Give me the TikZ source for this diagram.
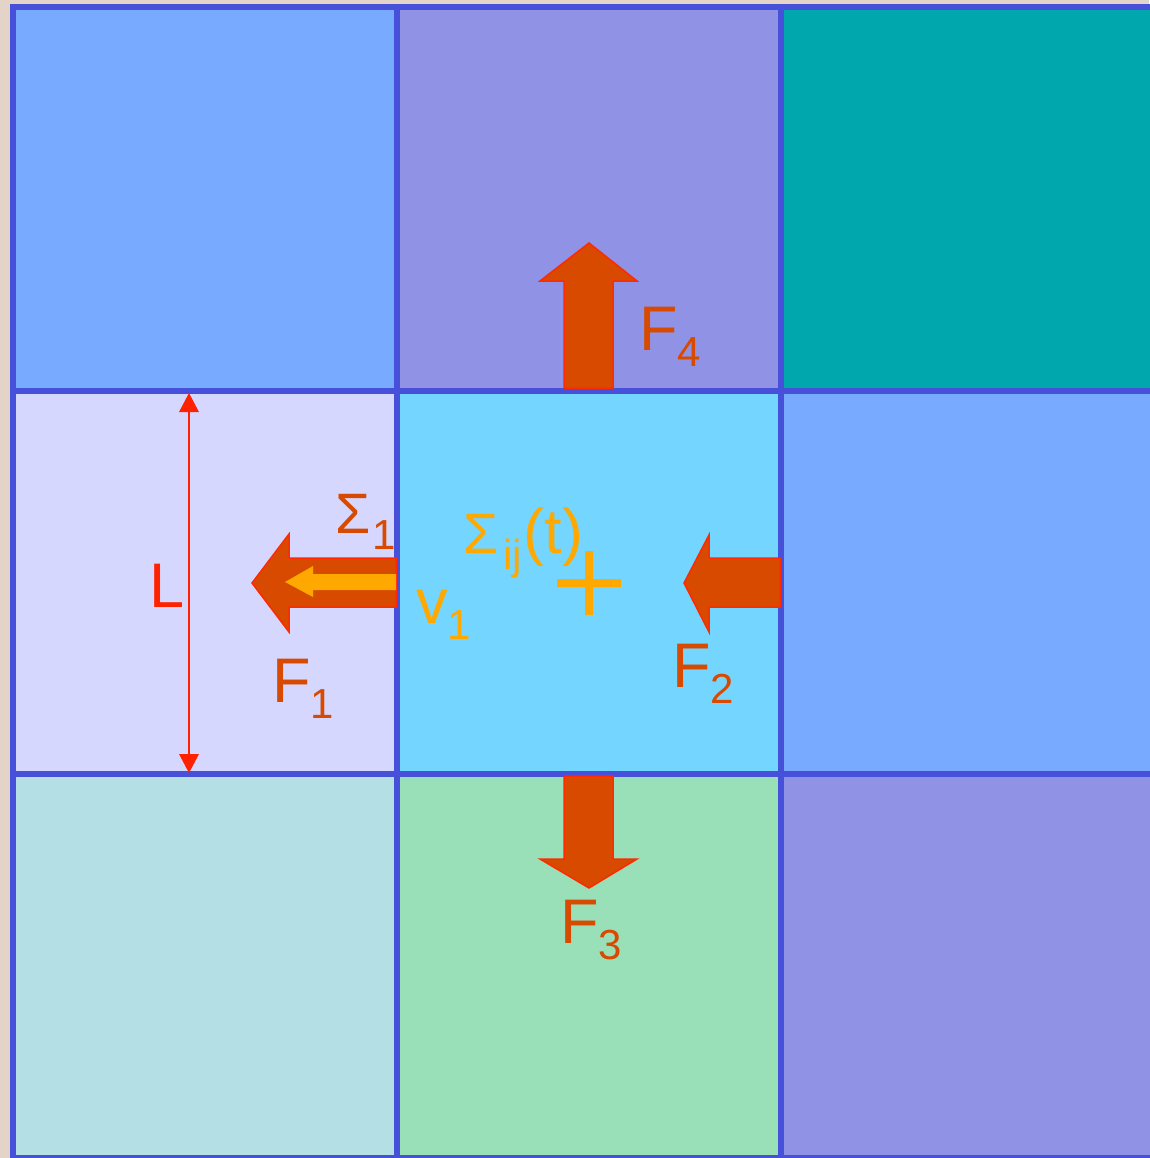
\documentclass[tikz,border=0pt]{standalone}
\usepackage{fontspec}
\setmainfont{Liberation Sans}
\definecolor{bgbeige}{HTML}{E3D3C9}
\definecolor{cA}{HTML}{78ABFF}
\definecolor{cB}{HTML}{8F92E5}
\definecolor{cC}{HTML}{00A8AD}
\definecolor{cD}{HTML}{D6D7FE}
\definecolor{cE}{HTML}{74D5FF}
\definecolor{cG}{HTML}{B3DFE5}
\definecolor{cH}{HTML}{99DFB8}
\definecolor{gridc}{HTML}{4650D8}
\definecolor{arrf}{HTML}{D84A00}
\definecolor{arro}{HTML}{FF2A00}
\definecolor{yel}{HTML}{FFA800}
\definecolor{lred}{HTML}{FF2200}
\newcommand\mysub[1]{\raisebox{-16pt}{\fontsize{42}{42}\selectfont #1}}
\newcommand\mybigfont{\fontsize{63}{70}\selectfont}
\newcommand\mysig{{\fontsize{57}{60}\selectfont Σ}}
\tikzset{
  gridline/.style={draw=gridc, line width=6pt},
  force/.style={fill=arrf, draw=arro, line width=1.5pt, line join=miter},
  lab/.style={anchor=base west, inner sep=0pt, outer sep=0pt, font=\mybigfont},
  flab/.style={lab, text=arrf},
  ylab/.style={lab, text=yel},
}
\begin{document}
\begin{tikzpicture}[x=1pt,y=-1pt]
\useasboundingbox (0,0) rectangle (1149,1158);
\fill[bgbeige] (0,0) rectangle (1149,1158);
% cells
\fill[cA] (13,7) rectangle (397,391);
\fill[cB] (397,7) rectangle (781,391);
\fill[cC] (781,7) rectangle (1165,391);
\fill[cD] (13,391) rectangle (397,774);
\fill[cE] (397,391) rectangle (781,774);
\fill[cA] (781,391) rectangle (1165,774);
\fill[cG] (13,774) rectangle (397,1158);
\fill[cH] (397,774) rectangle (781,1158);
\fill[cB] (781,774) rectangle (1165,1158);
% grid lines
\foreach \x in {13,397,781} \draw[gridline] (\x,4) -- (\x,1162);
\foreach \y in {7,391,774,1158} \draw[gridline] (10,\y) -- (1165,\y);
% L dimension
\coordinate (ltop) at (189,393);
\coordinate (lbot) at (189,773);
\draw[draw=lred, line width=2pt] (189,410) -- (189,756);
\fill[lred] (ltop) -- (199,412) -- (179,412) -- cycle;
\fill[lred] (lbot) -- (199,754) -- (179,754) -- cycle;
\node[lab, text=lred] (L) at (149,607) {L};
% force arrows
\draw[force] (564,388) -- (564,281) -- (540,281) -- (589,243) -- (637,281) -- (613,281) -- (613,388) -- cycle;
\draw[force] (564,776) -- (564,859) -- (540,859) -- (589,888) -- (637,859) -- (613,859) -- (613,776) -- cycle;
\draw[force] (780,558) -- (709,558) -- (709,535) -- (684,583) -- (709,632) -- (709,607) -- (780,607) -- cycle;
\draw[force] (396,558) -- (289,558) -- (289,534) -- (252,583) -- (289,632) -- (289,607) -- (396,607) -- cycle;
% velocity arrow
\fill[yel] (396,574) -- (313,574) -- (313,566) -- (285,582) -- (313,597) -- (313,590) -- (396,590) -- cycle;
% plus
\draw[yel, line width=8pt] (557,583) -- (621,583);
\draw[yel, line width=8pt] (589,551) -- (589,615);
% labels
\node[flab] (F4) at (639,350) {F\mysub{4}};
\node[flab] (F3) at (560,943) {F\mysub{3}};
\node[flab] (F2) at (672,687) {F\mysub{2}};
\node[flab] (F1) at (272,702) {F\mysub{1}};
\node[flab] (S1) at (335,533) {\mysig\kern2pt\mysub{1}};
\node[ylab] (v1) at (416,623) {v\mysub{1}};
\node[ylab] (Sij) at (463,553) {\mysig\kern5pt\mysub{ij}\kern2pt(t)};
\end{tikzpicture}
\end{document}
